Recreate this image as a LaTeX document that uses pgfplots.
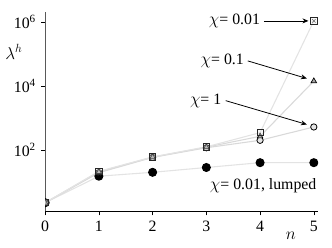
\documentclass[border=0pt]{standalone}
\usepackage{pgfplots}
\pgfplotsset{compat=1.18}
\usepackage{fontspec}
\setmainfont{Liberation Serif}
\usetikzlibrary{arrows.meta}
\begin{document}
\fontsize{16}{19}\selectfont
\begin{tikzpicture}[x=1bp,y=1bp]
\begin{axis}[
  scale only axis,
  width=275bp, height=201bp,
  ymode=log,
  xmin=0, xmax=5.08,
  ymin=1.23, ymax=2.1e6,
  axis lines=left,
  axis line style={-},
  x axis line style={black, line width=0.8pt},
  y axis line style={black!65, line width=0.8pt},
  xtick={0,1,2,3,4,5},
  xticklabels={0,1,2,3,4,5},
  ytick={1e2,1e4,1e6},
  yticklabels={10\textsuperscript{2},10\textsuperscript{4},10\textsuperscript{6}},
  minor ytick={},
  yminorticks=false,
  tick align=outside,
  major tick length=4bp,
  tick style={black, line width=0.6pt},
  clip marker paths=true,
  every axis plot/.append style={line width=1.1pt},
  xlabel={\fontsize{18}{20}\selectfont$n$},
  xlabel style={at={(rel axis cs:0.9,-0.12)}, anchor=center},
  ylabel={\fontsize{17}{20}\selectfont$\lambda^h$},
  ylabel style={at={(rel axis cs:-0.115,0.8)}, anchor=center, rotate=-90},
]
% lines
\addplot[black!11, mark=none] coordinates {(0,2.3) (1,15.5) (2,20.5) (3,29) (4,41) (5,41)};
\addplot[black!15, mark=none] coordinates {(0,2.3) (1,20) (2,60) (3,120) (4,205) (5,535)};
\addplot[black!15, mark=none] coordinates {(0,2.3) (1,21) (2,61) (3,125) (4,273) (5,14500)};
\addplot[black!11, mark=none] coordinates {(0,2.3) (1,22) (2,62) (3,128) (4,355) (5,1.1e6)};
% markers
\addplot[only marks, mark=*, mark size=4pt, mark options={draw=black, fill=black}] coordinates {(0,2.3) (1,15.5) (2,20.5) (3,29) (4,41) (5,41)};
\addplot[only marks, mark=*, mark size=3.2pt, mark options={draw=black, fill=black!10, line width=0.8pt}] coordinates {(0,2.3) (1,20) (2,60) (3,120) (4,205) (5,535)};
\addplot[only marks, mark=triangle*, mark size=3.2pt, mark options={draw=black, fill=black!35, line width=0.7pt}] coordinates {(0,2.3) (1,21) (2,61) (3,125) (4,273) (5,14500)};
\addplot[only marks, mark=square*, mark size=3.2pt, mark options={draw=black!85, fill=black!10, fill opacity=0.3, line width=0.8pt}] coordinates {(0,2.3) (1,22) (2,62) (3,128) (4,355) (5,1.1e6)};
\addplot[only marks, mark=x, mark size=2.4pt, mark options={draw=black!60, line width=0.5pt}] coordinates {(5,1.1e6)};
% annotations
\node[anchor=east, inner sep=1bp] at (axis cs:4.02,1.1e6) {$\chi$= 0.01};
\draw[-{Stealth[length=6bp,width=5bp]}, line width=0.8pt] (axis cs:4.07,1.1e6) -- (axis cs:4.9,1.1e6);
\node[anchor=east, inner sep=1bp] at (axis cs:3.72,6.2e4) {$\chi$= 0.1};
\draw[-{Stealth[length=6bp,width=5bp]}, line width=0.8pt] (axis cs:3.77,6.2e4) -- (axis cs:4.87,1.75e4);
\node[anchor=east, inner sep=1bp] at (axis cs:3.3,3550) {$\chi$= 1};
\draw[-{Stealth[length=6bp,width=5bp]}, line width=0.8pt] (axis cs:3.36,3550) -- (axis cs:4.87,640);
\node[anchor=east, inner sep=1bp] at (axis cs:5.07,8.1) {$\chi$= 0.01, lumped};
\end{axis}
\path (current axis.south west) ++(-43bp,-36bp) rectangle ++(332bp,249bp);
\end{tikzpicture}
\end{document}
